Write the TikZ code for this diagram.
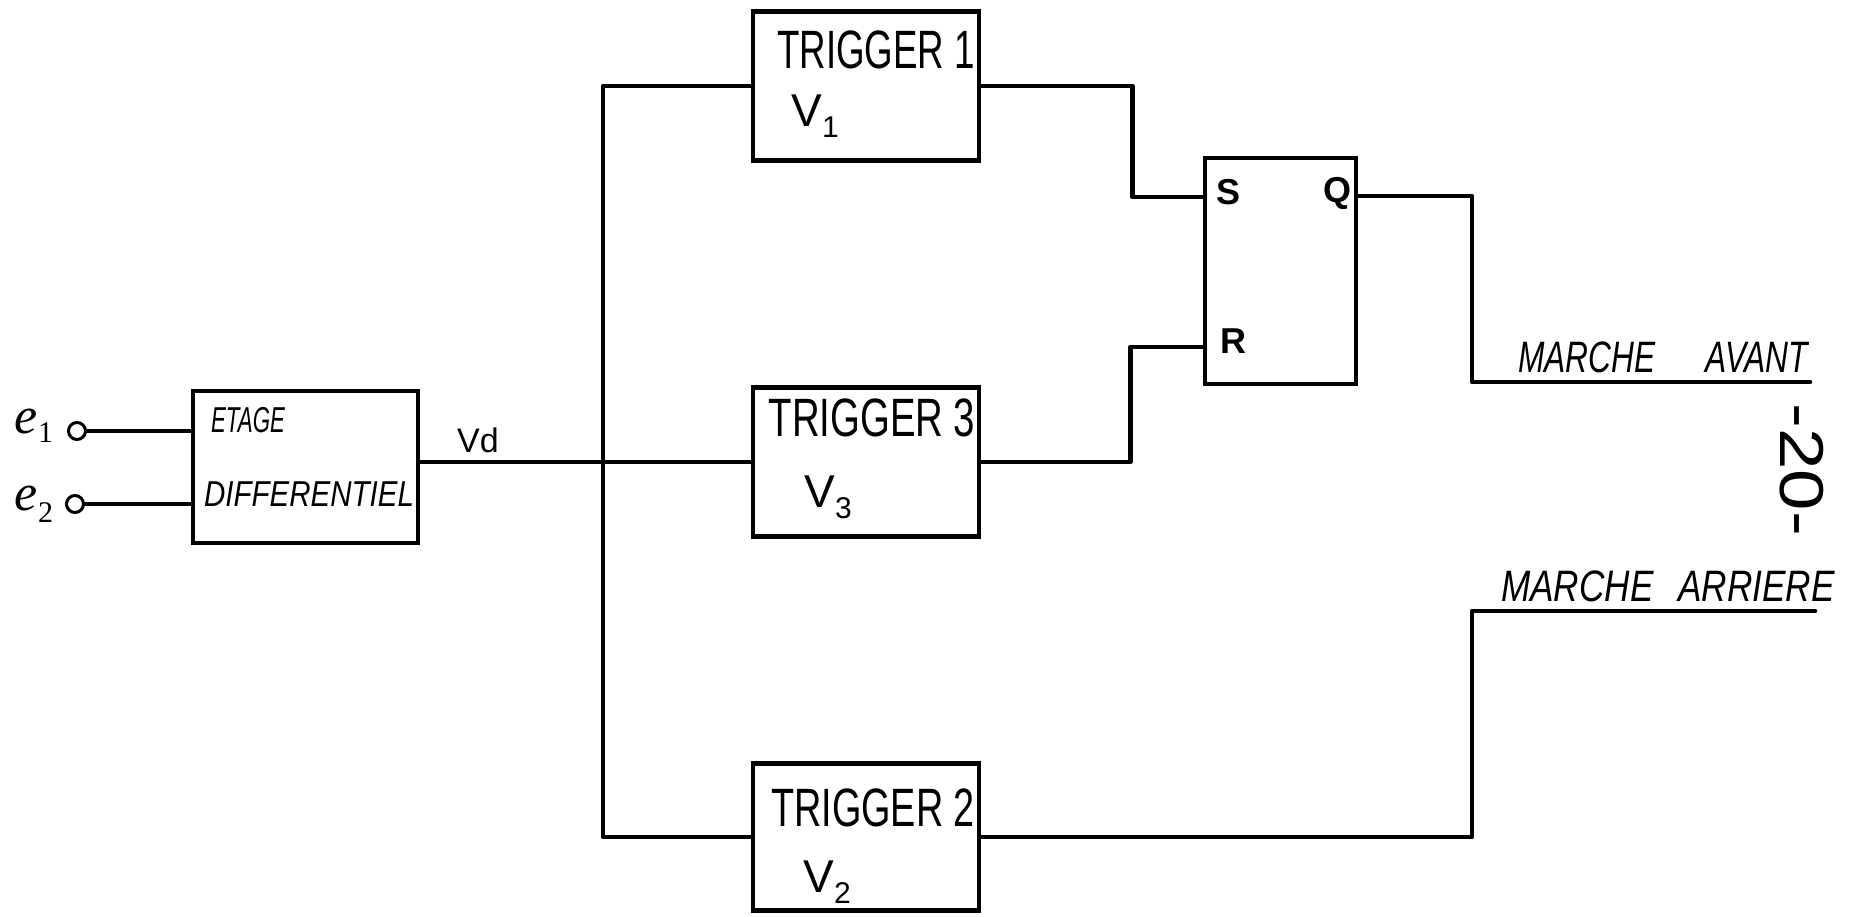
\documentclass[tikz,border=0pt]{standalone}
\usepackage{graphicx}
\usepackage{fontspec}
\setmainfont{Liberation Sans}
\newfontfamily\serifit{Liberation Serif}
\newcommand{\nx}[2]{\scalebox{#1}[1]{#2}}
\newcommand{\fs}[1]{\fontsize{#1}{#1}\selectfont}
\begin{document}
\begin{tikzpicture}[x=1pt,y=-1pt,
  wire/.style={line width=4.5pt,line cap=round,line join=round},
  blockbox/.style={draw,line width=4.5pt,inner sep=0pt},
  trig/.style={blockbox,minimum width=226pt,minimum height=149pt},
  lbl/.style={inner sep=0pt,anchor=center},
  term/.style={draw,circle,line width=3pt,minimum size=17pt,inner sep=0pt}]
\useasboundingbox (0,0) rectangle (1865,916);

% input stage
\node[blockbox,minimum width=225pt,minimum height=152pt] (etage) at (305.5,467) {};
\node[lbl] (etagetxt) at (248,420) {\fs{36}\itshape\nx{0.62}{ETAGE}};
\node[lbl] (difftxt) at (309,494) {\fs{36}\itshape\nx{0.82}{DIFFERENTIEL}};

\node[term] (e1c) at (77,431) {};
\node[term] (e2c) at (75,504) {};
\node[lbl] (e1l) at (34,426) {\fs{52}\serifit\itshape e\raisebox{-9pt}{\fs{30}\upshape 1}};
\node[lbl] (e2l) at (34,504) {\fs{52}\serifit\itshape e\raisebox{-12pt}{\fs{30}\upshape 2}};
\draw[wire] (e1c.east) -- (etage.west |- e1c);
\draw[wire] (e2c.east) -- (etage.west |- e2c);

% triggers
\node[trig] (t1) at (866,86) {};
\node[trig] (t3) at (866,462) {};
\node[trig,minimum height=147pt] (t2) at (866,837) {};
\node[lbl] (t1a) at (876,50) {\fs{54}\nx{0.68}{TRIGGER 1}};
\node[lbl] (t1b) at (815,116) {\fs{46}V\raisebox{-11pt}{\fs{30}1}};
\node[lbl] (t3a) at (872,418) {\fs{54}\nx{0.71}{TRIGGER 3}};
\node[lbl] (t3b) at (828,497) {\fs{46}V\raisebox{-11pt}{\fs{30}3}};
\node[lbl] (t2a) at (873,808) {\fs{54}\nx{0.70}{TRIGGER 2}};
\node[lbl] (t2b) at (827,882) {\fs{46}V\raisebox{-11pt}{\fs{30}2}};

% Vd line and bus
\coordinate (busx) at (603,0);
\draw[wire] (etage.east |- t3.west) -- (t3.west);
\node[lbl] (vd) at (478,440) {\fs{34}Vd};
\draw[wire] (t1.west) -- (t1.west -| busx) -- (t2.west -| busx) -- (t2.west);

% SR flip-flop
\node[blockbox,minimum width=151pt,minimum height=226pt] (sr) at (1280.5,271) {};
\coordinate (sS) at (1205,197);
\coordinate (sR) at (1205,347);
\coordinate (sQ) at (1356,196);
\node[lbl] (sl) at (1228,192) {\fs{36}\bfseries S};
\node[lbl] (ql) at (1337,193) {\fs{36}\bfseries Q};
\node[lbl] (rl) at (1233,341) {\fs{36}\bfseries R};

\draw[wire] (t1.east) -- ++(151,0) |- (sS);
\draw[wire] (t3.east) -- ++(149,0) |- (sR);

% outputs
\coordinate (avend) at (1810,382);
\coordinate (arend) at (1815,611);
\coordinate (outx) at (1472,0);
\draw[wire] (sQ) -- (sQ -| outx) |- (avend);
\draw[wire] (t2.east) -- (t2.east -| outx) |- (arend);
\node[lbl] (avant) at (1663,357) {\fs{44}\itshape\nx{0.72}{MARCHE\hspace{70pt}AVANT}};
\node[lbl] (arriere) at (1668,586) {\fs{44}\itshape\nx{0.8}{MARCHE\hspace{31pt}ARRIERE}};

% page number
\node[lbl,rotate=-90] (page) at (1802,470) {\fs{62}\nx{1.2}{-20-}};
\end{tikzpicture}
\end{document}
